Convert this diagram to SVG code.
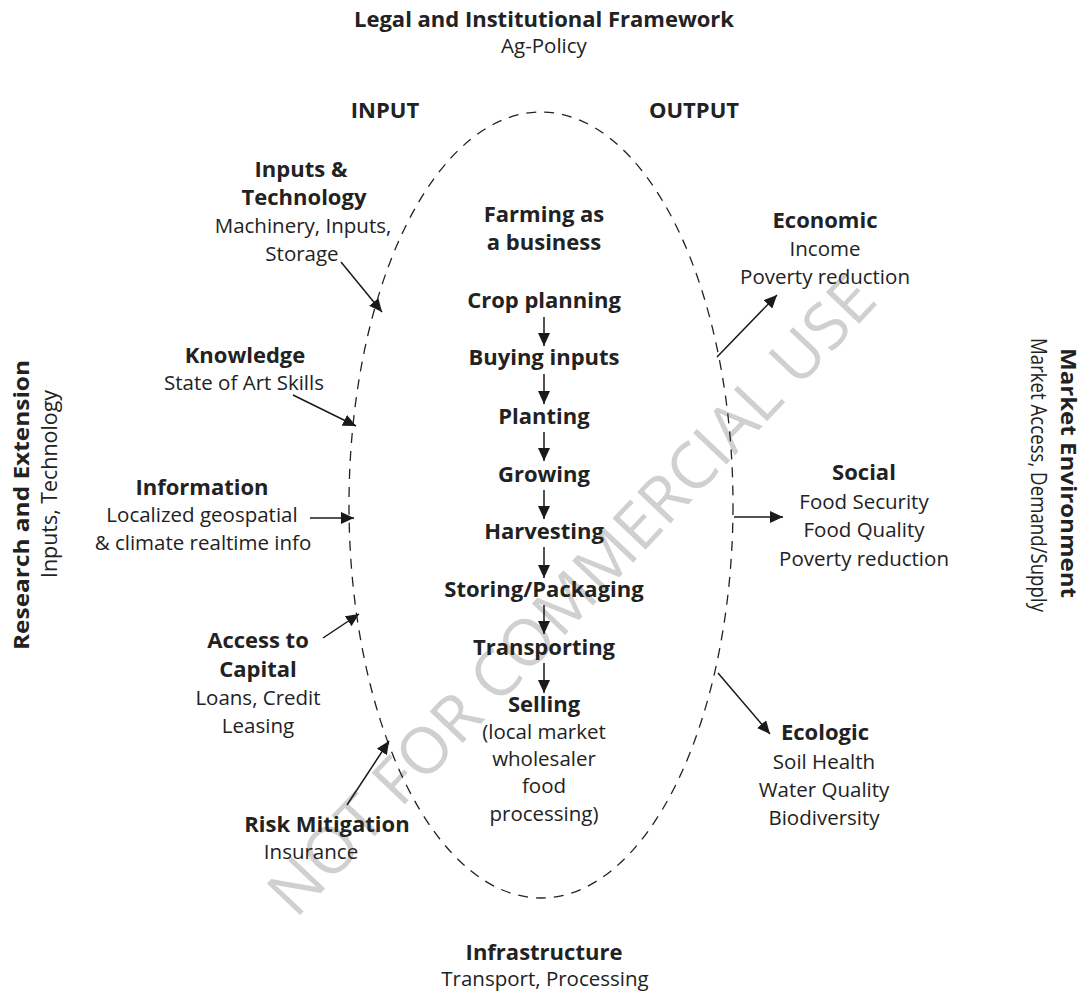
<svg xmlns="http://www.w3.org/2000/svg" width="1083" height="994" viewBox="0 0 1083 994">
  <defs>
    <marker id="head" markerUnits="userSpaceOnUse" markerWidth="14" markerHeight="12" refX="13" refY="6" orient="auto">
      <path d="M0,0 L13,6 L0,12 Z" fill="#1a1a1a"/>
    </marker>
    <style>
      text { font-family: "Open Sans", "Noto Sans", "Liberation Sans", sans-serif; font-size: 20.5px; fill: #222; text-anchor: middle; }
      .b { font-weight: bold; font-size: 22px; }
      .v { font-size: 21px; }
      .wm { fill: #d0d0d0; font-size: 64px; font-weight: normal; }
      .arrow { stroke: #1a1a1a; stroke-width: 1.5; fill: none; marker-end: url(#head); }
      .boundary { stroke: #222; stroke-width: 1.3; fill: none; stroke-dasharray: 10 8; }
    </style>
  </defs>
  <rect width="1083" height="994" fill="#ffffff"/>

  <!-- watermark -->
  <text class="wm" x="571" y="618" textLength="850" lengthAdjust="spacingAndGlyphs" transform="rotate(-46.6 571 595)">NOT FOR COMMERCIAL USE</text>

  <!-- system boundary -->
  <g id="boundary">
    <ellipse class="boundary" cx="541" cy="505" rx="192" ry="393"/>
  </g>

  <!-- surrounding framework labels -->
  <g id="legal">
    <text class="b" x="544" y="27">Legal and Institutional Framework</text>
    <text x="544" y="53">Ag-Policy</text>
  </g>
  <g id="input-title"><text class="b" x="385" y="118">INPUT</text></g>
  <g id="output-title"><text class="b" x="694" y="118">OUTPUT</text></g>
  <g id="research">
    <text class="b v" transform="translate(29 505) rotate(-90)" textLength="290" lengthAdjust="spacingAndGlyphs">Research and Extension</text>
    <text class="v" transform="translate(57 484) rotate(-90)" textLength="188" lengthAdjust="spacingAndGlyphs">Inputs, Technology</text>
  </g>
  <g id="market">
    <text class="b v" transform="translate(1061 473) rotate(90)" textLength="250" lengthAdjust="spacingAndGlyphs">Market Environment</text>
    <text class="v" transform="translate(1031 475) rotate(90)" textLength="274" lengthAdjust="spacingAndGlyphs">Market Access, Demand/Supply</text>
  </g>
  <g id="infrastructure">
    <text class="b" x="544" y="960">Infrastructure</text>
    <text x="545" y="986">Transport, Processing</text>
  </g>

  <!-- inputs -->
  <g id="inputs-technology">
    <text class="b" x="301" y="177">Inputs &amp;</text>
    <text class="b" x="304" y="205">Technology</text>
    <text x="303" y="233">Machinery, Inputs,</text>
    <text x="302" y="261">Storage</text>
  </g>
  <g id="knowledge">
    <text class="b" x="245" y="363">Knowledge</text>
    <text x="244" y="390">State of Art Skills</text>
  </g>
  <g id="information">
    <text class="b" x="202" y="495">Information</text>
    <text x="202" y="522">Localized geospatial</text>
    <text x="203" y="550">&amp; climate realtime info</text>
  </g>
  <g id="capital">
    <text class="b" x="258" y="648">Access to</text>
    <text class="b" x="258" y="677">Capital</text>
    <text x="258" y="705">Loans, Credit</text>
    <text x="258" y="733">Leasing</text>
  </g>
  <g id="risk">
    <text class="b" x="327" y="832">Risk Mitigation</text>
    <text x="311" y="859">Insurance</text>
  </g>

  <!-- farming process -->
  <g id="farming">
    <text class="b" x="544" y="222">Farming as</text>
    <text class="b" x="544" y="250">a business</text>
  </g>
  <g id="step-crop"><text class="b" x="544" y="308">Crop planning</text></g>
  <g id="step-buying"><text class="b" x="544" y="365">Buying inputs</text></g>
  <g id="step-planting"><text class="b" x="544" y="424">Planting</text></g>
  <g id="step-growing"><text class="b" x="544" y="482">Growing</text></g>
  <g id="step-harvesting"><text class="b" x="544" y="539">Harvesting</text></g>
  <g id="step-storing"><text class="b" x="544" y="597">Storing/Packaging</text></g>
  <g id="step-transporting"><text class="b" x="544" y="655">Transporting</text></g>
  <g id="step-selling">
    <text class="b" x="544" y="712">Selling</text>
    <text x="544" y="739">(local market</text>
    <text x="544" y="766">wholesaler</text>
    <text x="544" y="793">food</text>
    <text x="544" y="821">processing)</text>
  </g>

  <!-- outputs -->
  <g id="economic">
    <text class="b" x="825" y="228">Economic</text>
    <text x="825" y="256">Income</text>
    <text x="825" y="284">Poverty reduction</text>
  </g>
  <g id="social">
    <text class="b" x="864" y="480">Social</text>
    <text x="864" y="509">Food Security</text>
    <text x="864" y="537">Food Quality</text>
    <text x="864" y="566">Poverty reduction</text>
  </g>
  <g id="ecologic">
    <text class="b" x="825" y="740">Ecologic</text>
    <text x="824" y="769">Soil Health</text>
    <text x="824" y="797">Water Quality</text>
    <text x="824" y="825">Biodiversity</text>
  </g>

  <!-- connectors -->
  <g id="connectors">
    <line class="arrow" x1="341" y1="262" x2="382" y2="312"/>
    <line class="arrow" x1="293" y1="395" x2="356" y2="426"/>
    <line class="arrow" x1="310" y1="518" x2="354" y2="518"/>
    <line class="arrow" x1="323" y1="638" x2="359" y2="614"/>
    <line class="arrow" x1="347" y1="805" x2="389" y2="741"/>

    <line class="arrow" x1="544" y1="317" x2="544" y2="346"/>
    <line class="arrow" x1="544" y1="374" x2="544" y2="404"/>
    <line class="arrow" x1="544" y1="432" x2="544" y2="461"/>
    <line class="arrow" x1="544" y1="490" x2="544" y2="519"/>
    <line class="arrow" x1="544" y1="547" x2="544" y2="578"/>
    <line class="arrow" x1="544" y1="605" x2="544" y2="634"/>
    <line class="arrow" x1="544" y1="663" x2="544" y2="693"/>

    <line class="arrow" x1="717" y1="357" x2="777" y2="295"/>
    <line class="arrow" x1="734" y1="517" x2="783" y2="517"/>
    <line class="arrow" x1="718" y1="673" x2="770" y2="734"/>
  </g>
</svg>
